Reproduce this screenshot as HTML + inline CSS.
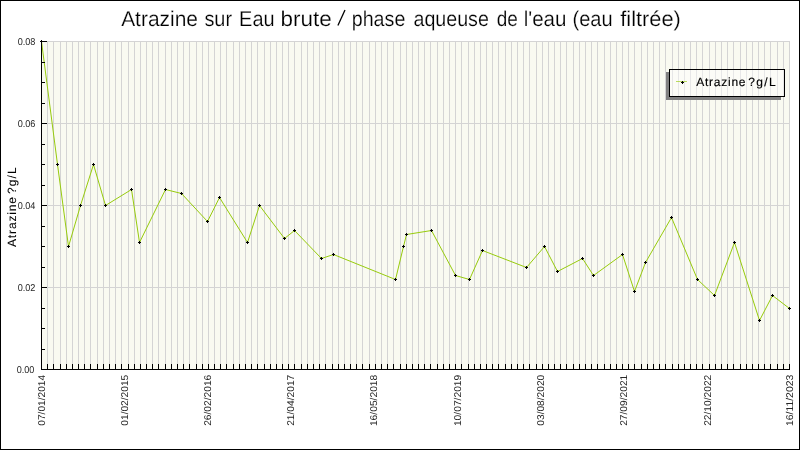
<!DOCTYPE html><html><head><meta charset="utf-8"><title>Atrazine</title><style>html,body{margin:0;padding:0;background:#fff}body{width:800px;height:450px;overflow:hidden}svg{display:block;will-change:transform}text{font-family:"Liberation Sans",sans-serif;white-space:pre;text-rendering:geometricPrecision}</style></head><body>
<svg width="800" height="450" viewBox="0 0 800 450">
<rect x="0" y="0" width="800" height="450" fill="#fff"/>
<rect x="41" y="41" width="749" height="329" fill="#f9faf1" shape-rendering="crispEdges"/>
<path d="M47 41v328M53 41v328M60 41v328M66 41v328M72 41v328M78 41v328M84 41v328M90 41v328M97 41v328M103 41v328M109 41v328M115 41v328M121 41v328M128 41v328M134 41v328M140 41v328M146 41v328M152 41v328M158 41v328M165 41v328M171 41v328M177 41v328M183 41v328M189 41v328M196 41v328M202 41v328M208 41v328M214 41v328M220 41v328M226 41v328M233 41v328M239 41v328M245 41v328M251 41v328M257 41v328M264 41v328M270 41v328M276 41v328M282 41v328M288 41v328M294 41v328M301 41v328M307 41v328M313 41v328M319 41v328M325 41v328M332 41v328M338 41v328M344 41v328M350 41v328M356 41v328M362 41v328M369 41v328M375 41v328M381 41v328M387 41v328M393 41v328M400 41v328M406 41v328M412 41v328M418 41v328M424 41v328M430 41v328M437 41v328M443 41v328M449 41v328M455 41v328M461 41v328M468 41v328M474 41v328M480 41v328M486 41v328M492 41v328M498 41v328M505 41v328M511 41v328M517 41v328M523 41v328M529 41v328M536 41v328M542 41v328M548 41v328M554 41v328M560 41v328M566 41v328M573 41v328M579 41v328M585 41v328M591 41v328M597 41v328M604 41v328M610 41v328M616 41v328M622 41v328M628 41v328M634 41v328M641 41v328M647 41v328M653 41v328M659 41v328M665 41v328M672 41v328M678 41v328M684 41v328M690 41v328M696 41v328M702 41v328M709 41v328M715 41v328M721 41v328M727 41v328M733 41v328M740 41v328M746 41v328M752 41v328M758 41v328M764 41v328M770 41v328M777 41v328M783 41v328M789 41v328" stroke="#d4d4d4" stroke-width="1" transform="translate(0.5,0)" shape-rendering="crispEdges" fill="none"/>
<path d="M47 41H790M47 123H790M47 205H790M47 287H790" stroke="#d4d4d4" stroke-width="1" transform="translate(0,0.5)" shape-rendering="crispEdges" fill="none"/>
<polyline points="41.5,41.5 57.5,164.5 68.5,246.5 80.5,205.5 93.5,164.5 105.5,205.5 131.5,189.5 139.5,242.5 165.5,189.5 181.5,193.5 207.5,221.5 219.5,197.5 247.5,242.5 259.5,205.5 284.5,238.5 294.5,230.5 321.5,258.5 333.5,254.5 395.5,279.5 403.5,246.5 406.5,234.5 431.5,230.5 455.5,275.5 469.5,279.5 482.5,250.5 526.5,267.5 544.5,246.5 557.5,271.5 582.5,258.5 593.5,275.5 622.5,254.5 634.5,291.5 645.5,262.5 671.5,217.5 697.5,279.5 714.5,295.5 734.5,242.5 759.5,320.5 772.5,295.5 789.5,308.5" fill="none" stroke="#97cb0c" stroke-width="1" stroke-linejoin="round"/>
<g fill="#000" shape-rendering="crispEdges"><rect x="41" y="41" width="1" height="329"/><rect x="41" y="369" width="749" height="1"/><rect x="41" y="369" width="6" height="1"/><rect x="41" y="349" width="4" height="1"/><rect x="41" y="328" width="4" height="1"/><rect x="41" y="308" width="4" height="1"/><rect x="41" y="287" width="6" height="1"/><rect x="41" y="267" width="4" height="1"/><rect x="41" y="246" width="4" height="1"/><rect x="41" y="226" width="4" height="1"/><rect x="41" y="205" width="6" height="1"/><rect x="41" y="185" width="4" height="1"/><rect x="41" y="164" width="4" height="1"/><rect x="41" y="144" width="4" height="1"/><rect x="41" y="123" width="6" height="1"/><rect x="41" y="103" width="4" height="1"/><rect x="41" y="82" width="4" height="1"/><rect x="41" y="62" width="4" height="1"/><rect x="41" y="41" width="6" height="1"/><rect x="41" y="364" width="1" height="6"/><rect x="47" y="364" width="1" height="6"/><rect x="53" y="364" width="1" height="6"/><rect x="60" y="364" width="1" height="6"/><rect x="66" y="364" width="1" height="6"/><rect x="72" y="364" width="1" height="6"/><rect x="78" y="364" width="1" height="6"/><rect x="84" y="364" width="1" height="6"/><rect x="90" y="364" width="1" height="6"/><rect x="97" y="364" width="1" height="6"/><rect x="103" y="364" width="1" height="6"/><rect x="109" y="364" width="1" height="6"/><rect x="115" y="364" width="1" height="6"/><rect x="121" y="364" width="1" height="6"/><rect x="128" y="364" width="1" height="6"/><rect x="134" y="364" width="1" height="6"/><rect x="140" y="364" width="1" height="6"/><rect x="146" y="364" width="1" height="6"/><rect x="152" y="364" width="1" height="6"/><rect x="158" y="364" width="1" height="6"/><rect x="165" y="364" width="1" height="6"/><rect x="171" y="364" width="1" height="6"/><rect x="177" y="364" width="1" height="6"/><rect x="183" y="364" width="1" height="6"/><rect x="189" y="364" width="1" height="6"/><rect x="196" y="364" width="1" height="6"/><rect x="202" y="364" width="1" height="6"/><rect x="208" y="364" width="1" height="6"/><rect x="214" y="364" width="1" height="6"/><rect x="220" y="364" width="1" height="6"/><rect x="226" y="364" width="1" height="6"/><rect x="233" y="364" width="1" height="6"/><rect x="239" y="364" width="1" height="6"/><rect x="245" y="364" width="1" height="6"/><rect x="251" y="364" width="1" height="6"/><rect x="257" y="364" width="1" height="6"/><rect x="264" y="364" width="1" height="6"/><rect x="270" y="364" width="1" height="6"/><rect x="276" y="364" width="1" height="6"/><rect x="282" y="364" width="1" height="6"/><rect x="288" y="364" width="1" height="6"/><rect x="294" y="364" width="1" height="6"/><rect x="301" y="364" width="1" height="6"/><rect x="307" y="364" width="1" height="6"/><rect x="313" y="364" width="1" height="6"/><rect x="319" y="364" width="1" height="6"/><rect x="325" y="364" width="1" height="6"/><rect x="332" y="364" width="1" height="6"/><rect x="338" y="364" width="1" height="6"/><rect x="344" y="364" width="1" height="6"/><rect x="350" y="364" width="1" height="6"/><rect x="356" y="364" width="1" height="6"/><rect x="362" y="364" width="1" height="6"/><rect x="369" y="364" width="1" height="6"/><rect x="375" y="364" width="1" height="6"/><rect x="381" y="364" width="1" height="6"/><rect x="387" y="364" width="1" height="6"/><rect x="393" y="364" width="1" height="6"/><rect x="400" y="364" width="1" height="6"/><rect x="406" y="364" width="1" height="6"/><rect x="412" y="364" width="1" height="6"/><rect x="418" y="364" width="1" height="6"/><rect x="424" y="364" width="1" height="6"/><rect x="430" y="364" width="1" height="6"/><rect x="437" y="364" width="1" height="6"/><rect x="443" y="364" width="1" height="6"/><rect x="449" y="364" width="1" height="6"/><rect x="455" y="364" width="1" height="6"/><rect x="461" y="364" width="1" height="6"/><rect x="468" y="364" width="1" height="6"/><rect x="474" y="364" width="1" height="6"/><rect x="480" y="364" width="1" height="6"/><rect x="486" y="364" width="1" height="6"/><rect x="492" y="364" width="1" height="6"/><rect x="498" y="364" width="1" height="6"/><rect x="505" y="364" width="1" height="6"/><rect x="511" y="364" width="1" height="6"/><rect x="517" y="364" width="1" height="6"/><rect x="523" y="364" width="1" height="6"/><rect x="529" y="364" width="1" height="6"/><rect x="536" y="364" width="1" height="6"/><rect x="542" y="364" width="1" height="6"/><rect x="548" y="364" width="1" height="6"/><rect x="554" y="364" width="1" height="6"/><rect x="560" y="364" width="1" height="6"/><rect x="566" y="364" width="1" height="6"/><rect x="573" y="364" width="1" height="6"/><rect x="579" y="364" width="1" height="6"/><rect x="585" y="364" width="1" height="6"/><rect x="591" y="364" width="1" height="6"/><rect x="597" y="364" width="1" height="6"/><rect x="604" y="364" width="1" height="6"/><rect x="610" y="364" width="1" height="6"/><rect x="616" y="364" width="1" height="6"/><rect x="622" y="364" width="1" height="6"/><rect x="628" y="364" width="1" height="6"/><rect x="634" y="364" width="1" height="6"/><rect x="641" y="364" width="1" height="6"/><rect x="647" y="364" width="1" height="6"/><rect x="653" y="364" width="1" height="6"/><rect x="659" y="364" width="1" height="6"/><rect x="665" y="364" width="1" height="6"/><rect x="672" y="364" width="1" height="6"/><rect x="678" y="364" width="1" height="6"/><rect x="684" y="364" width="1" height="6"/><rect x="690" y="364" width="1" height="6"/><rect x="696" y="364" width="1" height="6"/><rect x="702" y="364" width="1" height="6"/><rect x="709" y="364" width="1" height="6"/><rect x="715" y="364" width="1" height="6"/><rect x="721" y="364" width="1" height="6"/><rect x="727" y="364" width="1" height="6"/><rect x="733" y="364" width="1" height="6"/><rect x="740" y="364" width="1" height="6"/><rect x="746" y="364" width="1" height="6"/><rect x="752" y="364" width="1" height="6"/><rect x="758" y="364" width="1" height="6"/><rect x="764" y="364" width="1" height="6"/><rect x="770" y="364" width="1" height="6"/><rect x="777" y="364" width="1" height="6"/><rect x="783" y="364" width="1" height="6"/><rect x="789" y="364" width="1" height="6"/></g>
<path d="M40 41h3v1h-3zM41 40h1v3h-1zM56 164h3v1h-3zM57 163h1v3h-1zM67 246h3v1h-3zM68 245h1v3h-1zM79 205h3v1h-3zM80 204h1v3h-1zM92 164h3v1h-3zM93 163h1v3h-1zM104 205h3v1h-3zM105 204h1v3h-1zM130 189h3v1h-3zM131 188h1v3h-1zM138 242h3v1h-3zM139 241h1v3h-1zM164 189h3v1h-3zM165 188h1v3h-1zM180 193h3v1h-3zM181 192h1v3h-1zM206 221h3v1h-3zM207 220h1v3h-1zM218 197h3v1h-3zM219 196h1v3h-1zM246 242h3v1h-3zM247 241h1v3h-1zM258 205h3v1h-3zM259 204h1v3h-1zM283 238h3v1h-3zM284 237h1v3h-1zM293 230h3v1h-3zM294 229h1v3h-1zM320 258h3v1h-3zM321 257h1v3h-1zM332 254h3v1h-3zM333 253h1v3h-1zM394 279h3v1h-3zM395 278h1v3h-1zM402 246h3v1h-3zM403 245h1v3h-1zM405 234h3v1h-3zM406 233h1v3h-1zM430 230h3v1h-3zM431 229h1v3h-1zM454 275h3v1h-3zM455 274h1v3h-1zM468 279h3v1h-3zM469 278h1v3h-1zM481 250h3v1h-3zM482 249h1v3h-1zM525 267h3v1h-3zM526 266h1v3h-1zM543 246h3v1h-3zM544 245h1v3h-1zM556 271h3v1h-3zM557 270h1v3h-1zM581 258h3v1h-3zM582 257h1v3h-1zM592 275h3v1h-3zM593 274h1v3h-1zM621 254h3v1h-3zM622 253h1v3h-1zM633 291h3v1h-3zM634 290h1v3h-1zM644 262h3v1h-3zM645 261h1v3h-1zM670 217h3v1h-3zM671 216h1v3h-1zM696 279h3v1h-3zM697 278h1v3h-1zM713 295h3v1h-3zM714 294h1v3h-1zM733 242h3v1h-3zM734 241h1v3h-1zM758 320h3v1h-3zM759 319h1v3h-1zM771 295h3v1h-3zM772 294h1v3h-1zM788 308h3v1h-3zM789 307h1v3h-1z" fill="#000" shape-rendering="crispEdges"/>
<path d="M666 72h3v25h112v3h-115z" fill="#808080" shape-rendering="crispEdges"/>
<rect x="669.5" y="69.5" width="115" height="27" fill="#fff" fill-opacity="0.45" stroke="#000" stroke-width="1" shape-rendering="crispEdges"/>
<rect x="676" y="81" width="11" height="1" fill="#97cb0c" fill-opacity="0.65" shape-rendering="crispEdges"/>
<path d="M681 82h3v1h-3zM682 81h1v3h-1z" fill="#000" shape-rendering="crispEdges"/>
<text transform="translate(121.13,25.50) scale(0.9838,1)" font-size="21.3" fill="#000" stroke="#fff" stroke-width="0.2">Atrazine</text>
<text transform="translate(204.42,25.50) scale(0.9345,1)" font-size="21.3" fill="#000" stroke="#fff" stroke-width="0.2">sur</text>
<text transform="translate(239.11,25.50) scale(0.9353,1)" font-size="21.3" fill="#000" stroke="#fff" stroke-width="0.2">Eau</text>
<text transform="translate(280.55,25.50) scale(1.0541,1)" font-size="21.3" fill="#000" stroke="#fff" stroke-width="0.2">brute</text>
<text transform="translate(351.73,25.50) scale(0.9238,1)" font-size="21.3" fill="#000" stroke="#fff" stroke-width="0.2">phase</text>
<text transform="translate(413.44,25.50) scale(0.9233,1)" font-size="21.3" fill="#000" stroke="#fff" stroke-width="0.2">aqueuse</text>
<text transform="translate(496.72,25.50) scale(0.8914,1)" font-size="21.3" fill="#000" stroke="#fff" stroke-width="0.2">de</text>
<text transform="translate(523.67,25.50) scale(0.9639,1)" font-size="21.3" fill="#000" stroke="#fff" stroke-width="0.2">l'eau</text>
<text transform="translate(572.46,25.50) scale(0.9404,1)" font-size="21.3" fill="#000" stroke="#fff" stroke-width="0.2">(eau</text>
<text transform="translate(620.24,25.50) scale(1.0239,1)" font-size="21.3" fill="#000" stroke="#fff" stroke-width="0.2">filtrée)</text>
<text transform="translate(696.25,85.60)" font-size="12" fill="#000" letter-spacing="0.750" stroke="#000" stroke-width="0.15">Atrazine</text>
<text transform="translate(748.25,85.60)" font-size="12" fill="#000" letter-spacing="1.383" stroke="#000" stroke-width="0.15">?g/L</text>
<text transform="translate(16.40,247.00) rotate(-90)" font-size="12" fill="#000" letter-spacing="0.857" stroke="#000" stroke-width="0.05">Atrazine</text>
<text transform="translate(16.40,194.00) rotate(-90)" font-size="12" fill="#000" letter-spacing="1.133" stroke="#000" stroke-width="0.05">?g/L</text>
<text transform="translate(16.66,372.90) scale(0.9189,1)" font-size="9.9" fill="#262626">0.00</text>
<text transform="translate(17.65,290.90) scale(0.9252,1)" font-size="9.9" fill="#262626">0.02</text>
<text transform="translate(17.66,208.90) scale(0.9189,1)" font-size="9.9" fill="#262626">0.04</text>
<text transform="translate(17.65,126.90) scale(0.9252,1)" font-size="9.9" fill="#262626">0.06</text>
<text transform="translate(17.65,44.90) scale(0.9252,1)" font-size="9.9" fill="#262626">0.08</text>
<text transform="translate(45.00,425.69) rotate(-90) scale(1.0277,1)" font-size="9.9" fill="#262626">07/01/2014</text>
<text transform="translate(128.10,425.69) rotate(-90) scale(1.0303,1)" font-size="9.9" fill="#262626">01/02/2015</text>
<text transform="translate(211.20,425.82) rotate(-90) scale(1.0330,1)" font-size="9.9" fill="#262626">26/02/2016</text>
<text transform="translate(294.30,425.82) rotate(-90) scale(1.0330,1)" font-size="9.9" fill="#262626">21/04/2017</text>
<text transform="translate(377.20,426.08) rotate(-90) scale(1.0383,1)" font-size="9.9" fill="#262626">16/05/2018</text>
<text transform="translate(460.90,426.08) rotate(-90) scale(1.0383,1)" font-size="9.9" fill="#262626">10/07/2019</text>
<text transform="translate(544.20,425.69) rotate(-90) scale(1.0303,1)" font-size="9.9" fill="#262626">03/08/2020</text>
<text transform="translate(627.40,425.82) rotate(-90) scale(1.0330,1)" font-size="9.9" fill="#262626">27/09/2021</text>
<text transform="translate(710.65,425.82) rotate(-90) scale(1.0330,1)" font-size="9.9" fill="#262626">22/10/2022</text>
<text transform="translate(793.40,426.09) rotate(-90) scale(1.0547,1)" font-size="9.9" fill="#262626">16/11/2023</text>
<path d="M337.9 25.6L345 10.1" stroke="#000" stroke-width="1.3" fill="none"/>
<path d="M0.5 0.5H799.5V449.5H0.5Z" fill="none" stroke="#000" stroke-width="1" shape-rendering="crispEdges"/>
</svg></body></html>
